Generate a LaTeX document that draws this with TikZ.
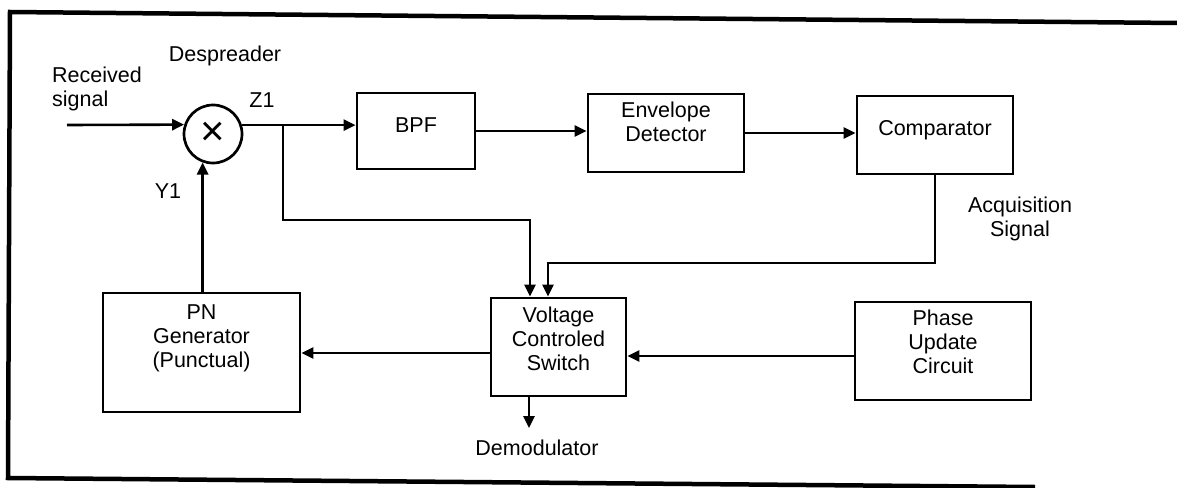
\documentclass[tikz,border=0pt]{standalone}
\usepackage{fontspec}
\setmainfont{Liberation Sans}
\usetikzlibrary{arrows.meta}
\newcommand{\liftbox}[2]{\raisebox{#1}[\height][\depth]{\begin{tabular}{@{}c@{}}#2\end{tabular}}}
\tikzset{
  every node/.style={font=\fontsize{21.5}{24}\selectfont},
  blk/.style={draw, line width=2.7pt, inner sep=0pt, rectangle},
  wire/.style={line width=2.6pt},
  arr/.style={wire, -{Triangle[length=12pt,width=11pt]}},
  lbl/.style={inner sep=0pt, align=center},
  frame/.style={line width=4.5pt}
}
\begin{document}
\begin{tikzpicture}[x=1pt,y=-1pt]
\useasboundingbox (0,0) rectangle (1177,487);
% frame
\coordinate (f1) at (1177,23);
\coordinate (f2) at (10,12);
\coordinate (f3) at (8,478);
\coordinate (f4) at (1035,487);
\draw[frame] (f1) -- (f2) -- (f3) -- (f4);

% blocks
\node[draw, circle, line width=2.7pt, minimum size=58pt, inner sep=0pt,
      font=\fontsize{42}{42}\selectfont] (circ) at (213,134) {×};
\node[blk, minimum width=118pt, minimum height=76pt] (bpf) at (416,131) {\liftbox{3pt}{BPF}};
\node[blk, minimum width=156pt, minimum height=78pt] (env) at (666,133) {\liftbox{8pt}{Envelope\\Detector}};
\node[blk, minimum width=156pt, minimum height=78pt] (comp) at (935,135) {\liftbox{4pt}{Comparator}};
\node[blk, minimum width=135pt, minimum height=98pt] (sw) at (558.5,347) {\liftbox{5pt}{Voltage\\Controled\\Switch}};
\node[blk, minimum width=197pt, minimum height=119pt] (pn) at (201.5,352.5) {\liftbox{14pt}{PN\\Generator\\(Punctual)}};
\node[blk, minimum width=176pt, minimum height=98pt] (ph) at (943,351) {\liftbox{6pt}{Phase\\Update\\Circuit}};

% labels
\node[lbl] (desp) at (225,56) {Despreader};
\node[lbl, anchor=west, align=left] (recv) at (52,89) {Received\\signal};
\node[lbl] (z1) at (262,100) {Z1};
\node[lbl] (y1) at (168,191) {Y1};
\node[lbl] (acq) at (1020,219) {Acquisition\\Signal};
\node[lbl] (demod) at (537,448) {Demodulator};

% connector helpers
\coordinate (rin) at (67,125);
\coordinate (bx) at (283,0);
\coordinate (br) at (circ.17 -| bx);
\coordinate (j1) at (530,220);
\coordinate (j2) at (548,263);
\coordinate (dm) at (529,428);

% connectors
\draw[arr] (rin) -- (circ.162);
\draw[arr] (circ.17) -- (circ.17 -| bpf.west);
\draw[arr] (br) |- (j1) -- (j1 |- sw.north);
\draw[arr] (bpf.east) -- (bpf.east -| env.west);
\draw[arr] (env.east) -- (env.east -| comp.west);
\draw[arr] (comp.south) |- (j2) -- (j2 |- sw.north);
\draw[arr] ([yshift=-5pt]ph.west) -- ([yshift=-5pt]ph.west -| sw.east);
\draw[arr] ([yshift=-6pt]sw.west) -- ([yshift=-6pt]sw.west -| pn.east);
\draw[arr] (circ.250 |- pn.north) -- (circ.250);
\draw[arr] (dm |- sw.south) -- (dm);
\end{tikzpicture}
\end{document}
